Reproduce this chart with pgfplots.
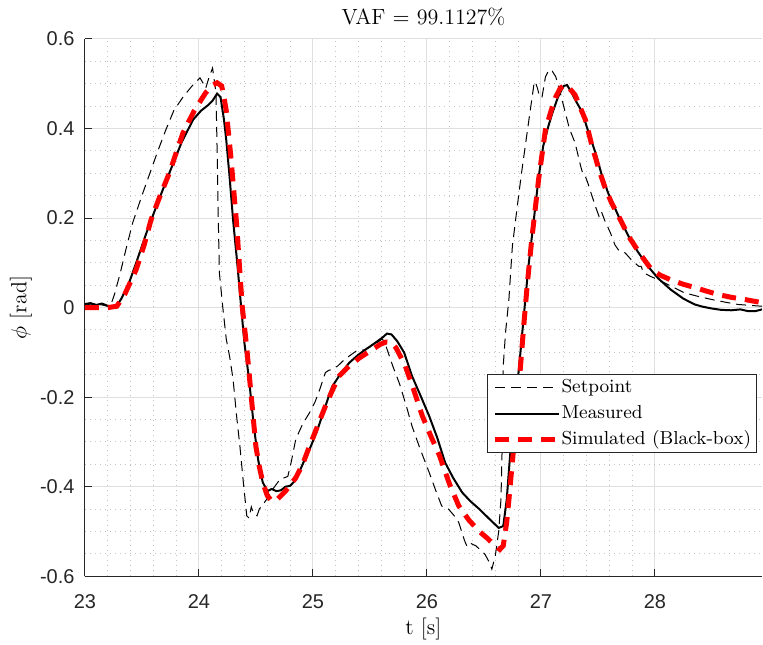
\documentclass[border=0pt]{standalone}
\usepackage{fontspec}
\usepackage{pgfplots}
\pgfplotsset{compat=1.18}
\newfontfamily\tickfont{Liberation Sans}
\definecolor{axisgray}{HTML}{262626}
\definecolor{gridmajor}{HTML}{DFDFDF}
\definecolor{gridminor}{HTML}{C4C4C4}
\definecolor{simred}{HTML}{FF0000}

\begin{document}
\begin{tikzpicture}
\path[use as bounding box] (-42.5pt,-34pt) rectangle (339.5pt,288.5pt);
\begin{axis}[
  at={(0,0)}, anchor=south west,
  scale only axis, width=339pt, height=269pt,
  xmin=23, xmax=28.94, ymin=-0.6, ymax=0.6,
  axis x line*=bottom, axis y line*=left,
  axis line style={axisgray, line width=0.5pt, -},
  xtick={23,24,25,26,27,28},
  xticklabels={23,24,25,26,27,28},
  ytick={-0.6,-0.4,-0.2,0,0.2,0.4,0.6},
  yticklabels={-0.6,-0.4,-0.2,0,0.2,0.4,0.6},
  minor x tick num=4, minor y tick num=3,
  major tick length=3.4pt, minor tick length=0pt,
  tick align=inside,
  tick style={axisgray, line width=0.5pt},
  /pgf/number format/assume math mode=true,
  ticklabel style={font=\tickfont\fontsize{10}{12}\selectfont, text=axisgray},
  xticklabel style={yshift=-5.7pt},
  yticklabel style={xshift=-1.7pt},
  grid=both,
  major grid style={gridmajor, line width=0.5pt},
  minor grid style={gridminor, line width=0.5pt, dash pattern=on 0.5pt off 2pt},
  every axis title shift=0pt,
  title={VAF $=$ 99.1127\%},
  title style={at={(axis description cs:0.5,1)}, anchor=base, yshift=7.2pt, font=\fontsize{11}{13}\selectfont},
  xlabel={t [s]},
  xlabel style={at={(axis description cs:0.5,0)}, anchor=base, yshift=-29.25pt, font=\fontsize{11}{13}\selectfont},
  ylabel={$\phi$ [rad]},
  ylabel style={at={(axis description cs:0,0.5)}, anchor=base, yshift=29.25pt, font=\fontsize{11}{13}\selectfont},
  legend cell align=left,
  legend image code/.code={\draw[#1] (0pt,0pt) -- (32pt,0pt);},
  legend style={at={(0.594,0.3755)}, anchor=north west,
    draw=axisgray, line width=0.5pt, fill=white,
    font=\fontsize{9.4}{11}\selectfont,
    inner xsep=2.5pt, inner ysep=1.75pt, row sep=3.5pt,
    nodes={inner sep=0pt, text height=7pt, text depth=2.5pt},
    /tikz/every even column/.append style={column sep=2.5pt}},
]
% reference trajectory
\addplot[black, line width=0.5pt, dash pattern=on 5pt off 3pt] coordinates {
(23.00,0.005) (23.05,0.008) (23.10,0.005) (23.15,0.006) (23.20,0.003) (23.22,0.0)
(23.26,0.03) (23.31,0.077) (23.36,0.13) (23.42,0.19) (23.50,0.25) (23.57,0.30)
(23.64,0.35) (23.71,0.397) (23.78,0.44) (23.86,0.47) (23.94,0.495) (24.01,0.513)
(24.04,0.50) (24.06,0.49) (24.09,0.515) (24.12,0.535) (24.15,0.48) (24.16,0.35)
(24.17,0.20) (24.18,0.077) (24.21,0.00) (24.24,-0.07) (24.27,-0.11) (24.30,-0.16)
(24.33,-0.24) (24.36,-0.31) (24.39,-0.39) (24.42,-0.465) (24.44,-0.47) (24.46,-0.445)
(24.48,-0.46) (24.51,-0.465) (24.53,-0.45) (24.56,-0.44) (24.59,-0.43) (24.65,-0.405)
(24.71,-0.384) (24.78,-0.377) (24.81,-0.345) (24.85,-0.294) (24.91,-0.26) (24.97,-0.235)
(25.02,-0.21) (25.06,-0.183) (25.11,-0.145) (25.14,-0.14) (25.17,-0.138) (25.22,-0.13)
(25.26,-0.12) (25.32,-0.108) (25.38,-0.097) (25.46,-0.094) (25.52,-0.085) (25.58,-0.075)
(25.61,-0.07) (25.64,-0.085) (25.70,-0.13) (25.76,-0.17) (25.82,-0.22) (25.87,-0.265)
(25.94,-0.315) (26.02,-0.368) (26.08,-0.41) (26.13,-0.443) (26.19,-0.45) (26.24,-0.465)
(26.28,-0.48) (26.33,-0.52) (26.35,-0.532) (26.37,-0.525) (26.43,-0.532) (26.51,-0.551)
(26.55,-0.57) (26.57,-0.584) (26.60,-0.555) (26.63,-0.50) (26.65,-0.428) (26.66,-0.317)
(26.67,-0.13) (26.69,-0.056) (26.72,0.02) (26.75,0.137) (26.79,0.22) (26.83,0.30)
(26.89,0.41) (26.94,0.50) (26.95,0.505) (26.97,0.49) (26.99,0.47) (27.01,0.47)
(27.04,0.515) (27.07,0.531) (27.10,0.528) (27.13,0.516) (27.17,0.48) (27.21,0.44)
(27.25,0.40) (27.30,0.368) (27.35,0.315) (27.37,0.297) (27.39,0.293) (27.41,0.28)
(27.44,0.256) (27.48,0.225) (27.51,0.204) (27.53,0.215) (27.56,0.195) (27.61,0.167)
(27.65,0.14) (27.68,0.129) (27.74,0.122) (27.80,0.105) (27.86,0.092) (27.88,0.092)
(27.90,0.078) (27.96,0.07) (28.03,0.062) (28.15,0.047) (28.26,0.033) (28.38,0.025)
(28.50,0.018) (28.62,0.012) (28.73,0.007) (28.94,0.003)
};
\addlegendentry{Setpoint}
% measured roll angle
\addplot[black, line width=1pt] coordinates {
(23.00,0.008) (23.05,0.010) (23.10,0.006) (23.15,0.009) (23.20,0.004) (23.25,0.002)
(23.28,0.004) (23.32,0.02) (23.38,0.05) (23.45,0.10) (23.54,0.167) (23.64,0.235)
(23.74,0.30) (23.85,0.37) (23.95,0.42) (24.02,0.44) (24.08,0.452) (24.12,0.462)
(24.16,0.478) (24.19,0.47) (24.22,0.42) (24.24,0.375) (24.27,0.29) (24.30,0.196)
(24.34,0.09) (24.37,0.003) (24.40,-0.08) (24.44,-0.16) (24.48,-0.26) (24.52,-0.34)
(24.56,-0.39) (24.60,-0.41) (24.64,-0.405) (24.68,-0.41) (24.72,-0.408) (24.76,-0.40)
(24.80,-0.398) (24.85,-0.385) (24.91,-0.35) (24.97,-0.317) (25.03,-0.28) (25.08,-0.243)
(25.13,-0.205) (25.17,-0.176) (25.25,-0.145) (25.32,-0.123) (25.40,-0.105) (25.46,-0.094)
(25.54,-0.08) (25.61,-0.067) (25.65,-0.058) (25.69,-0.06) (25.74,-0.075) (25.80,-0.10)
(25.87,-0.153) (25.95,-0.20) (26.02,-0.242) (26.09,-0.29) (26.16,-0.346) (26.23,-0.38)
(26.31,-0.413) (26.38,-0.432) (26.46,-0.45) (26.54,-0.47) (26.63,-0.492) (26.67,-0.488)
(26.70,-0.43) (26.73,-0.33) (26.77,-0.23) (26.81,-0.13) (26.85,-0.02) (26.89,0.09)
(26.94,0.20) (26.98,0.29) (27.02,0.36) (27.06,0.40) (27.10,0.434) (27.15,0.47)
(27.20,0.495) (27.23,0.497) (27.27,0.48) (27.31,0.46) (27.36,0.438) (27.42,0.39)
(27.48,0.345) (27.53,0.30) (27.59,0.256) (27.68,0.205) (27.77,0.159) (27.85,0.125)
(27.94,0.092) (28.03,0.065) (28.14,0.04) (28.25,0.02) (28.35,0.007) (28.42,0.002)
(28.50,-0.002) (28.58,-0.005) (28.67,-0.006) (28.75,-0.004) (28.82,-0.008) (28.88,-0.008)
(28.94,-0.004)
};
\addlegendentry{Measured}
% black-box model response
\addplot[simred, line width=2.5pt, dash pattern=on 7pt off 4.5pt] coordinates {
(23.00,0.0) (23.10,0.0) (23.20,0.0) (23.28,0.003) (23.35,0.03) (23.45,0.085)
(23.52,0.14) (23.58,0.196) (23.66,0.25) (23.74,0.30) (23.80,0.345) (23.86,0.39)
(23.96,0.44) (24.06,0.48) (24.12,0.497) (24.16,0.502) (24.20,0.495) (24.22,0.47)
(24.24,0.44) (24.28,0.338) (24.33,0.19) (24.38,0.003) (24.42,-0.09) (24.46,-0.20)
(24.50,-0.31) (24.53,-0.355) (24.56,-0.39) (24.60,-0.42) (24.64,-0.432) (24.68,-0.43)
(24.72,-0.42) (24.76,-0.41) (24.85,-0.38) (24.91,-0.35) (24.97,-0.31) (25.04,-0.265)
(25.11,-0.22) (25.17,-0.185) (25.23,-0.153) (25.32,-0.13) (25.41,-0.112) (25.52,-0.094)
(25.59,-0.082) (25.64,-0.077) (25.69,-0.078) (25.73,-0.09) (25.77,-0.11) (25.81,-0.13)
(25.88,-0.18) (25.96,-0.242) (26.04,-0.29) (26.11,-0.33) (26.20,-0.395) (26.28,-0.443)
(26.37,-0.475) (26.46,-0.50) (26.53,-0.515) (26.60,-0.532) (26.64,-0.54) (26.67,-0.532)
(26.70,-0.48) (26.72,-0.428) (26.76,-0.317) (26.81,-0.167) (26.85,-0.04) (26.88,0.05)
(26.92,0.152) (26.98,0.286) (27.04,0.397) (27.09,0.44) (27.13,0.47) (27.17,0.49)
(27.21,0.497) (27.25,0.49) (27.30,0.475) (27.34,0.45) (27.39,0.42) (27.45,0.36)
(27.51,0.308) (27.56,0.27) (27.62,0.234) (27.70,0.195) (27.77,0.159) (27.87,0.12)
(27.97,0.085) (28.05,0.072) (28.14,0.062) (28.25,0.052) (28.35,0.045) (28.45,0.037)
(28.56,0.029) (28.67,0.023) (28.79,0.018) (28.94,0.011)
};
\addlegendentry{Simulated (Black-box)}
\end{axis}
\end{tikzpicture}
\end{document}
